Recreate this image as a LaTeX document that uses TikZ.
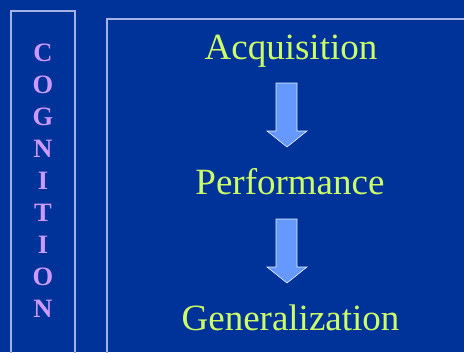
\documentclass[tikz,border=0pt]{standalone}
\usepackage{fontspec}
\setmainfont{Liberation Serif}
\definecolor{bg}{HTML}{003399}
\definecolor{frame}{HTML}{A3B3E3}
\definecolor{label}{HTML}{CCFF66}
\definecolor{letters}{HTML}{CC99FF}
\definecolor{arrowfill}{HTML}{6699FF}
\tikzset{
  framebox/.style={draw=frame, line width=1.5bp},
  stage/.style={text=label, font=\fontsize{37bp}{40bp}\selectfont, anchor=base, inner sep=0pt},
  letter/.style={text=letters, font=\bfseries\fontsize{26.5bp}{28bp}\selectfont, inner sep=0pt},
  blockarrow/.style={fill=arrowfill, draw=white!85!arrowfill, line width=0.6bp, line join=miter}
}
\begin{document}
\begin{tikzpicture}[x=1bp,y=-1bp]
\fill[bg] (0,0) rectangle (464,352);
\useasboundingbox (0,0) rectangle (464,352);
\draw[framebox] (11,11) rectangle (75,362);
\draw[framebox] (107,19) rectangle (474,362);
\foreach \ch [count=\i from 0] in {C,O,G,N,I,T,I,O,N} {
  \node[letter] (l\i) at (43,{52.5+32.06*\i}) {\ch};
}
\node[stage] (acq) at (291,59.5) {Acquisition};
\node[stage] (perf) at (290,194.3) {Performance};
\node[stage] (gen) at (290.5,330.5) {Generalization};
\draw[blockarrow] (276,83) -- (297,83) -- (297,131) -- (307,131) -- (287,147) -- (267,131) -- (276,131) -- cycle;
\draw[blockarrow] (276,219) -- (297,219) -- (297,267) -- (307,267) -- (287,283) -- (267,267) -- (276,267) -- cycle;
\end{tikzpicture}
\end{document}
